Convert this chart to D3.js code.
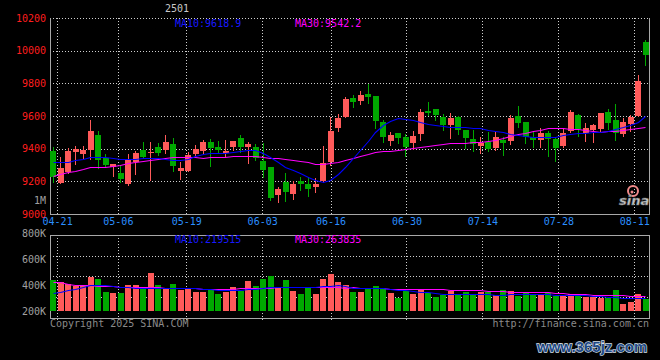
<!DOCTYPE html>
<html><head><meta charset="utf-8">
<script src="https://cdn.jsdelivr.net/npm/d3@7/dist/d3.min.js"></script>
<style>
html,body{margin:0;padding:0;background:#000;}
svg{display:block;}
text{font-family:"DejaVu Sans Mono",monospace;}
</style></head>
<body>
<svg id="c" width="660" height="360"></svg>
<script>
const dates = ["04-18","04-21","04-22","04-23","04-24","04-25","04-28","04-29","04-30",
"05-06","05-07","05-08","05-09","05-12","05-13","05-14","05-15","05-16",
"05-19","05-20","05-21","05-22","05-23","05-26","05-27","05-28","05-29","05-30",
"06-03","06-04","06-05","06-06","06-09","06-10","06-11","06-12","06-13",
"06-16","06-17","06-18","06-19","06-20","06-23","06-24","06-25","06-26","06-27",
"06-30","07-01","07-02","07-03","07-04","07-07","07-08","07-09","07-10","07-11",
"07-14","07-15","07-16","07-17","07-18","07-21","07-22","07-23","07-24","07-25",
"07-28","07-29","07-30","07-31","08-01","08-04","08-05","08-06","08-07","08-08",
"08-11","08-12","08-13"];

const open  = [9388,9192,9259,9380,9367,9392,9484,9345,9290,9253,9184,9316,9392,9374,9408,9392,9429,9265,9265,9367,
9388,9441,9408,9376,9408,9465,9412,9408,9325,9288,9116,9196,9122,9202,9184,9167,9202,9320,9527,9596,
9712,9694,9735,9722,9563,9447,9496,9471,9435,9490,9631,9643,9594,9545,9594,9514,9459,9418,9441,9404,
9453,9447,9600,9563,9471,9453,9496,9459,9416,9508,9606,9496,9514,9520,9624,9575,9490,9551,9600,10053];
const high  = [9408,9351,9402,9416,9416,9576,9508,9367,9306,9300,9367,9388,9441,9441,9437,9484,9465,9320,9382,9423,
9453,9457,9445,9453,9447,9484,9441,9427,9433,9288,9163,9249,9202,9229,9229,9218,9416,9596,9612,9716,
9729,9753,9798,9725,9576,9504,9496,9490,9508,9643,9686,9643,9612,9618,9600,9514,9514,9471,9502,9502,
9471,9606,9661,9563,9502,9527,9508,9471,9520,9637,9612,9557,9551,9618,9643,9673,9588,9606,9851,10065];
const low   = [9198,9192,9253,9304,9341,9335,9280,9290,9235,9198,9178,9245,9341,9208,9361,9371,9265,9214,9263,9361,
9376,9296,9376,9351,9392,9382,9310,9331,9229,9086,9076,9082,9092,9147,9112,9137,9198,9300,9506,9596,
9657,9674,9680,9528,9441,9422,9435,9355,9398,9453,9606,9576,9514,9465,9490,9404,9386,9373,9386,9392,
9361,9429,9535,9435,9410,9410,9355,9324,9410,9502,9478,9447,9441,9502,9520,9453,9478,9508,9600,9912];
const close = [9229,9284,9388,9400,9392,9508,9331,9300,9304,9214,9337,9376,9351,9380,9376,9441,9296,9282,9361,9398,
9441,9406,9392,9388,9447,9408,9431,9345,9269,9098,9153,9137,9184,9184,9153,9184,9310,9508,9588,9704,
9686,9729,9716,9571,9471,9484,9465,9410,9478,9625,9618,9606,9545,9588,9514,9465,9429,9435,9398,9471,
9435,9588,9557,9471,9453,9496,9459,9404,9496,9624,9520,9526,9545,9618,9557,9496,9563,9594,9814,9973];

const ma10 = [9320,9316,9318,9331,9339,9351,9347,9347,9345,9335,9339,9339,9341,9341,9341,9335,9331,9331,9335,9355,
9366,9371,9374,9375,9379,9385,9392,9393,9376,9351,9317,9290,9271,9251,9229,9208,9198,9208,9245,9290,
9345,9392,9447,9502,9545,9569,9585,9582,9573,9563,9551,9542,9536,9533,9533,9531,9528,9525,9517,9511,
9500,9488,9481,9476,9473,9471,9471,9474,9481,9489,9494,9497,9499,9503,9511,9520,9530,9542,9561,9600];
const ma30 = [9233,9245,9255,9263,9273,9286,9286,9290,9296,9300,9310,9318,9325,9331,9339,9345,9347,9347,9349,9347,
9343,9347,9349,9351,9353,9353,9355,9353,9351,9345,9341,9339,9331,9322,9316,9308,9306,9312,9320,9331,
9345,9357,9367,9378,9384,9388,9392,9398,9404,9410,9414,9420,9427,9433,9435,9437,9440,9443,9447,9455,
9463,9478,9490,9498,9506,9516,9529,9527,9524,9522,9518,9512,9508,9504,9506,9510,9514,9518,9524,9535];

const volume = [438400,420500,407700,394800,400000,461500,446100,348700,338400,341000,400000,400000,374300,492300,400000,374300,407700,361500,379400,348700,
348700,358900,330700,348700,384600,353800,430700,392300,446100,469200,384600,438400,353800,330700,374300,330700,446100,484600,423000,400000,
346100,346100,369200,392300,374300,338400,299900,353800,330700,361500,338400,307600,323000,353800,323000,346100,330700,346100,346100,323000,
361500,353800,315300,338400,323000,330700,338400,315300,323000,330700,315300,307600,307600,299900,299900,361500,253800,269200,330700,292300];
const vma10 = [338400,348700,361500,369200,387100,400000,400000,397400,392300,384600,382000,379400,376900,374300,374300,374300,376900,379400,379400,376900,
371800,366600,364100,361500,361500,361500,366600,369200,374300,382000,382000,384600,384600,387100,384600,387100,389700,394800,400000,394800,
376900,379400,379400,376900,374300,369200,364100,358900,353800,348700,343600,335900,328200,328200,328200,328200,330700,330700,328200,323000,
325600,330700,330700,330700,330700,328200,328200,325600,323000,323000,323000,320500,317900,315300,307600,305100,302500,299900,297400,297400];
const vma30 = [420500,420500,410200,402500,400000,397400,394800,392300,389700,387100,384600,384600,384600,382000,382000,379400,379400,376900,374300,374300,
371800,369200,369200,369200,371800,374300,376900,379400,379400,379400,382000,382000,384600,384600,382000,382000,384600,384600,382000,379400,
382000,379400,379400,376900,374300,371800,369200,369200,369200,369200,366600,366600,366600,364100,364100,361500,361500,358900,356400,356400,
351200,348700,346100,343600,343600,343600,343600,341000,338400,333300,328200,328200,325600,323000,323000,323000,320500,317900,317900,315300];

const priceTicks = [10200,10000,9800,9600,9400,9200,9000];
const priceGrid = [10000,9800,9600,9400,9200];
const volTicks = [800000,600000,400000,200000];
const volTickLabels = ["800K","600K","400K","200K"];
const xTickLabels = ["04-21","05-06","05-19","06-03","06-16","06-30","07-14","07-28","08-11"];
const title = "2501";
const maLegend = ["MA10:9618.9","MA30:9542.2"];
const volLegend = ["MA10:219515","MA30:263835"];

const RED = "#ff5a5a", GREEN = "#00a800", GRID = "#cfcfcf", BORDER = "#a8a8a8";
const L = 50, R = 649, T = 18, B = 214, VT = 235, VB = 318;

const svg = d3.select("#c");
svg.append("rect").attr("width",660).attr("height",360).attr("fill","#000");

const x = d3.scaleBand().domain(dates).range([49.5, 649.5]).paddingInner(0.2).paddingOuter(0.1);
const xt = d3.scaleLinear().domain([0, dates.length-1]).range([49.5, 649.5]);
const y = d3.scaleLinear().domain([9000, 10200]).range([B, T]);
const yv = d3.scaleLinear().domain([200000, 800000]).range([311, 233]);
const bw = Math.round(x.bandwidth());
const cx = d => Math.floor(x(d) + x.bandwidth()/2) + 0.5;
const bx = d => Math.round(x(d));

const tickIdx = xTickLabels.map(l => dates.indexOf(l));

// grids
const g = svg.append("g").attr("stroke", GRID).attr("stroke-dasharray","1,2").attr("shape-rendering","crispEdges");
g.selectAll(".hg").data(priceGrid).join("line")
  .attr("x1",L).attr("x2",R).attr("y1",d=>Math.round(y(d))+0.5).attr("y2",d=>Math.round(y(d))+0.5);
g.append("line").attr("x1",L).attr("x2",R).attr("y1",T+0.5).attr("y2",T+0.5);
g.selectAll(".vg").data(tickIdx.filter(i=>i<dates.length-2)).join("line")
  .attr("x1",d=>Math.round(xt(d))+0.5).attr("x2",d=>Math.round(xt(d))+0.5).attr("y1",T).attr("y2",B);
const vh = (VB - 1 - VT)/4;
g.selectAll(".vhg").data([1,2,3]).join("line")
  .attr("x1",L).attr("x2",R).attr("y1",d=>Math.round(VT+d*vh)+0.5).attr("y2",d=>Math.round(VT+d*vh)+0.5);
g.selectAll(".vvg").data(tickIdx.filter(i=>i<dates.length-2)).join("line")
  .attr("x1",d=>Math.round(xt(d))+0.5).attr("x2",d=>Math.round(xt(d))+0.5).attr("y1",VT).attr("y2",VB+2);

// borders
const bd = svg.append("g").attr("stroke",BORDER).attr("fill","none").attr("shape-rendering","crispEdges");
bd.append("path").attr("d",`M${L+0.5},${T}V${B+0.5}H${R+0.5}V${T}`);
bd.append("path").attr("d",`M${L+0.5},${VT+0.5}V${VB+0.5}H${R+0.5}V${VT+0.5}Z`);

// candles
const cg = svg.append("g").attr("shape-rendering","crispEdges");
const col = i => close[i] >= open[i] ? RED : GREEN;
cg.selectAll(".wick").data(dates).join("line")
  .attr("x1",(d)=>cx(d)).attr("x2",(d)=>cx(d))
  .attr("y1",(d,i)=>Math.round(y(high[i]))).attr("y2",(d,i)=>Math.round(y(low[i]))+1)
  .attr("stroke",(d,i)=>col(i));
cg.selectAll(".body").data(dates).join("rect")
  .attr("x",d=>bx(d)).attr("width",bw)
  .attr("y",(d,i)=>Math.round(y(Math.max(open[i],close[i]))))
  .attr("height",(d,i)=>Math.max(1, Math.round(y(Math.min(open[i],close[i]))) - Math.round(y(Math.max(open[i],close[i])))))
  .attr("fill",(d,i)=>col(i));

// volume bars
cg.selectAll(".vol").data(dates).join("rect")
  .attr("x",d=>bx(d)).attr("width",bw)
  .attr("y",(d,i)=>Math.round(yv(volume[i])))
  .attr("height",(d,i)=>Math.round(yv(200000)) - Math.round(yv(volume[i])))
  .attr("fill",(d,i)=>col(i));

// MA lines
const line = (arr, sc) => d3.line().x((d,i)=>cx(dates[i])).y(d=>Math.round(sc(d))+0.5)(arr);
svg.append("path").attr("d",line(ma30,y)).attr("stroke","#ff00ff").attr("fill","none").attr("stroke-width",1.1);
svg.append("path").attr("d",line(ma10,y)).attr("stroke","#0000ff").attr("fill","none").attr("stroke-width",1.1);
svg.append("path").attr("d",line(vma30,yv)).attr("stroke","#ff00ff").attr("fill","none").attr("stroke-width",1.1);
svg.append("path").attr("d",line(vma10,yv)).attr("stroke","#0000ff").attr("fill","none").attr("stroke-width",1.1);

// axes
const ya = svg.append("g").attr("transform",`translate(${L},0)`)
  .call(d3.axisLeft(y).tickValues(priceTicks).tickSize(0).tickPadding(4).tickFormat(d3.format("d")));
ya.select(".domain").remove();
ya.selectAll("text").attr("fill","#ff1e1e").style("font-size","10px").style("font-family","DejaVu Sans Mono");

const va = svg.append("g").attr("transform",`translate(${L},0)`)
  .call(d3.axisLeft(yv).tickValues(volTicks).tickSize(0).tickPadding(4).tickFormat((d,i)=>volTickLabels[i]));
va.select(".domain").remove();
va.selectAll("text").attr("fill","#a0a0a0").style("font-size","10px").style("font-family","DejaVu Sans Mono");

const xa = svg.append("g").attr("transform",`translate(0,${B})`)
  .call(d3.axisBottom(xt).tickValues(tickIdx).tickSize(0).tickPadding(3.5).tickFormat(i=>dates[i]));
xa.select(".domain").remove();
xa.selectAll("text").attr("fill","#2b8fff").style("font-size","10px").style("font-family","DejaVu Sans Mono");

// texts
const txt = (s, xx, yy, fill, anchor="start", size=10) => svg.append("text").attr("x",xx).attr("y",yy)
  .attr("fill",fill).attr("text-anchor",anchor).style("font-size",size+"px").text(s);
txt(title, 177, 12, "#c8c8c8", "middle");
txt(maLegend[0], 175, 27, "#1818ff");
txt(maLegend[1], 295, 27, "#ff00ff");
txt(volLegend[0], 175, 243, "#1818ff");
txt(volLegend[1], 295, 243, "#ff00ff");
txt("1M", 46, 204, "#a0a0a0", "end");
txt("Copyright 2025 SINA.COM", 50, 327, "#8a8a8a");
txt("http://finance.sina.com.cn", 649, 327, "#8a8a8a", "end");

// sina logo
svg.append("circle").attr("cx",633).attr("cy",191).attr("r",5).attr("fill","none").attr("stroke","#f08a8a").attr("stroke-width",2);
svg.append("circle").attr("cx",632).attr("cy",192).attr("r",1.5).attr("fill","#f08a8a");
svg.append("text").attr("x",619).attr("y",205).attr("fill","#c8c8c8").attr("stroke","#707070").attr("stroke-width",0.6)
  .style("font-family","DejaVu Sans").style("font-weight","bold").style("font-style","italic").style("font-size","13px").text("sina");

// watermark
svg.append("text").attr("x",537).attr("y",352)
  .attr("fill","#1f4a86").attr("stroke","#d8e0ea").attr("stroke-width",1.3).attr("paint-order","stroke")
  .style("font-family","'Liberation Sans',sans-serif").style("font-weight","bold").style("font-size","15px").text("www.365jz.com");
</script>
</body></html>
